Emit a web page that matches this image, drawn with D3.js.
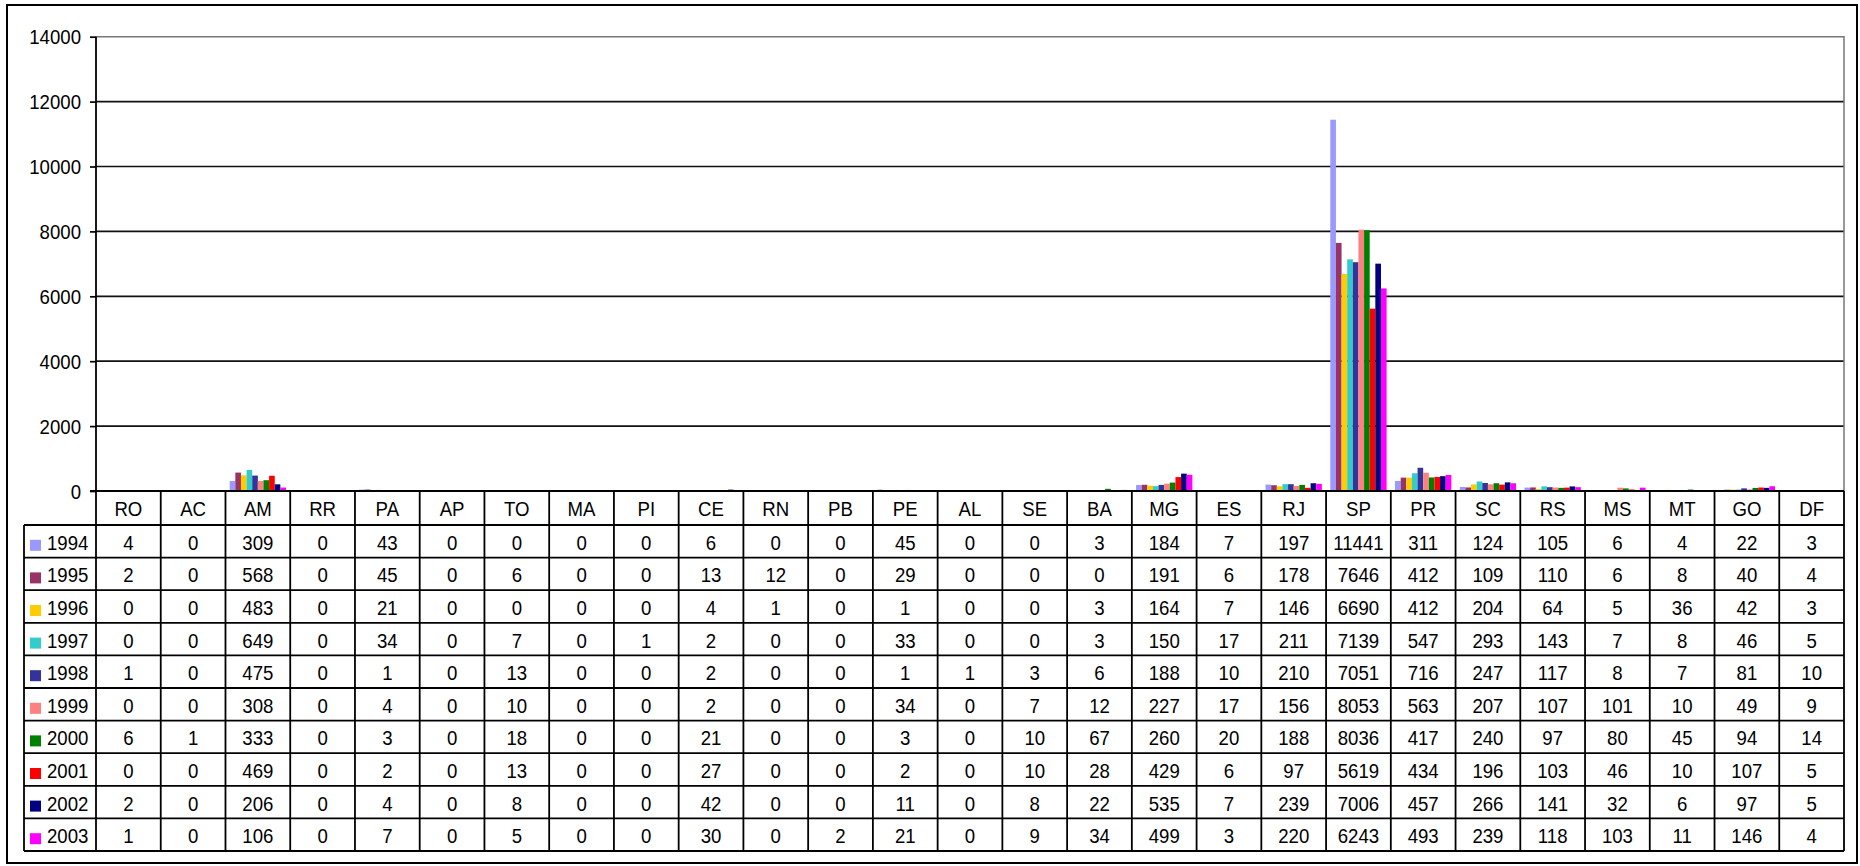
<script src="https://d3js.org/d3.v7.min.js"></script>
<style>
  body { margin: 0; background: #fff; }
  svg text { font-family: "Liberation Sans", Arial, sans-serif; fill: #000; }
</style>
<svg id="chart" width="1860" height="866"></svg>
<script>
  const categories = ["RO","AC","AM","RR","PA","AP","TO","MA","PI","CE","RN","PB","PE","AL","SE","BA","MG","ES","RJ","SP","PR","SC","RS","MS","MT","GO","DF"]
  const years = ["1994","1995","1996","1997","1998","1999","2000","2001","2002","2003"]
  const colors = ["#9999FF","#993366","#FFCC00","#33CCCC","#333399","#FF8080","#008000","#FF0000","#000080","#FF00FF"]
  const yTicks = [0,2000,4000,6000,8000,10000,12000,14000]

  const v1994 = [4,0,309,0,43,0,0,0,0,6,0,0,45,0,0,3,184,7,197,11441,311,124,105,6,4,22,3]
  const v1995 = [2,0,568,0,45,0,6,0,0,13,12,0,29,0,0,0,191,6,178,7646,412,109,110,6,8,40,4]
  const v1996 = [0,0,483,0,21,0,0,0,0,4,1,0,1,0,0,3,164,7,146,6690,412,204,64,5,36,42,3]
  const v1997 = [0,0,649,0,34,0,7,0,1,2,0,0,33,0,0,3,150,17,211,7139,547,293,143,7,8,46,5]
  const v1998 = [1,0,475,0,1,0,13,0,0,2,0,0,1,1,3,6,188,10,210,7051,716,247,117,8,7,81,10]
  const v1999 = [0,0,308,0,4,0,10,0,0,2,0,0,34,0,7,12,227,17,156,8053,563,207,107,101,10,49,9]
  const v2000 = [6,1,333,0,3,0,18,0,0,21,0,0,3,0,10,67,260,20,188,8036,417,240,97,80,45,94,14]
  const v2001 = [0,0,469,0,2,0,13,0,0,27,0,0,2,0,10,28,429,6,97,5619,434,196,103,46,10,107,5]
  const v2002 = [2,0,206,0,4,0,8,0,0,42,0,0,11,0,8,22,535,7,239,7006,457,266,141,32,6,97,5]
  const v2003 = [1,0,106,0,7,0,5,0,0,30,0,2,21,0,9,34,499,3,220,6243,493,239,118,103,11,146,4]

  const values = [v1994,v1995,v1996,v1997,v1998,v1999,v2000,v2001,v2002,v2003]
  const series = years.map((yr, i) => ({ year: yr, color: colors[i], values: values[i] }))

  const svg = d3.select("#chart")
  const plot = { left: 96, right: 1844, top: 36.7, bottom: 491 }
  const headH = 34, rowH = 32.6, legendLeft = 24
  const fontSize = "19px"
  // the original text is a little taller than Arial at this width
  const stretch = (x, y) => "translate(" + x + "," + y + ") scale(0.98,1.1)"

  const x0 = d3.scaleBand().domain(categories).range([plot.left, plot.right])
  const x1 = d3.scaleBand().domain(years).range([0, x0.bandwidth()]).paddingOuter(0.75)
  const y = d3.scaleLinear().domain([0, 14000]).range([plot.bottom, plot.top])

  // outer chart border
  svg.append("rect")
    .attr("x", 7).attr("y", 5).attr("width", 1850).attr("height", 858)
    .attr("fill", "none").attr("stroke", "#000").attr("stroke-width", 2)

  // gridlines
  svg.append("g")
    .selectAll("line")
    .data(yTicks.filter(t => t > 0 && t < 14000)).enter()
    .append("line")
    .attr("x1", plot.left).attr("x2", plot.right)
    .attr("y1", d => y(d)).attr("y2", d => y(d))
    .attr("stroke", "#111").attr("stroke-width", 1.7)

  // plot area border (top / right)
  svg.append("path")
    .attr("d", `M${plot.left},${y(14000)}H${plot.right}V${plot.bottom}`)
    .attr("fill", "none").attr("stroke", "#777").attr("stroke-width", 1.5)

  // bars
  svg.append("g")
    .selectAll("g")
    .data(series).enter()
    .append("g")
    .attr("fill", d => d.color)
    .selectAll("rect")
    .data(d => d.values.map((v, j) => ({ year: d.year, cat: categories[j], v: v }))).enter()
    .append("rect")
    .attr("x", d => x0(d.cat) + x1(d.year))
    .attr("width", x1.bandwidth())
    .attr("y", d => y(d.v))
    .attr("height", d => y(0) - y(d.v))

  // y axis
  const yAxis = svg.append("g")
    .attr("transform", "translate(" + plot.left + ",0)")
    .call(d3.axisLeft(y).tickValues(yTicks).tickSize(6).tickPadding(9).tickFormat(d3.format("d")))
  yAxis.attr("font-family", null).attr("font-size", null)
  yAxis.select(".domain").remove()
  yAxis.selectAll(".tick line").attr("stroke", "#000").attr("stroke-width", 1.7)
  yAxis.selectAll(".tick text")
    .style("font-size", fontSize).attr("fill", "#000")
    .attr("dy", null).attr("x", null)
    .attr("transform", stretch(-15, 7))

  // data table
  const tableTop = plot.bottom
  const rowsTop = tableTop + headH
  const tableBottom = rowsTop + rowH * years.length
  const grid = svg.append("g").attr("stroke", "#000").attr("stroke-width", 1.8)

  // horizontal lines
  grid.append("line").attr("x1", plot.left - 6).attr("x2", plot.right).attr("y1", tableTop).attr("y2", tableTop)
  grid.selectAll(null)
    .data(d3.range(years.length + 1)).enter()
    .append("line")
    .attr("x1", legendLeft).attr("x2", plot.right)
    .attr("y1", i => rowsTop + i * rowH).attr("y2", i => rowsTop + i * rowH)
  // vertical lines
  grid.selectAll(null)
    .data(categories.concat(["end"])).enter()
    .append("line")
    .attr("x1", (d, i) => plot.left + i * x0.bandwidth()).attr("x2", (d, i) => plot.left + i * x0.bandwidth())
    .attr("y1", (d, i) => i === 0 ? plot.top : tableTop).attr("y2", tableBottom)
  grid.append("line").attr("x1", legendLeft).attr("x2", legendLeft).attr("y1", rowsTop).attr("y2", tableBottom)

  // category header
  svg.append("g")
    .selectAll("text")
    .data(categories).enter()
    .append("text")
    .attr("transform", d => stretch(x0(d) + x0.bandwidth() / 2, tableTop + headH / 2 + 7.5))
    .attr("text-anchor", "middle")
    .style("font-size", fontSize)
    .text(d => d)

  // rows
  const rows = svg.append("g")
    .selectAll("g")
    .data(series).enter()
    .append("g")
    .attr("transform", (d, i) => "translate(0," + (rowsTop + i * rowH + rowH / 2) + ")")

  rows.append("rect")
    .attr("x", 30).attr("y", -1.5).attr("width", 11).attr("height", 11)
    .attr("fill", d => d.color)

  rows.append("text")
    .attr("transform", stretch(47, 8.5))
    .style("font-size", fontSize)
    .text(d => d.year)

  rows.selectAll("text.val")
    .data(d => d.values.map((v, j) => ({ cat: categories[j], v: v }))).enter()
    .append("text")
    .attr("class", "val")
    .attr("transform", d => stretch(x0(d.cat) + x0.bandwidth() / 2, 8.5))
    .attr("text-anchor", "middle")
    .style("font-size", fontSize)
    .text(d => d.v)
</script>
